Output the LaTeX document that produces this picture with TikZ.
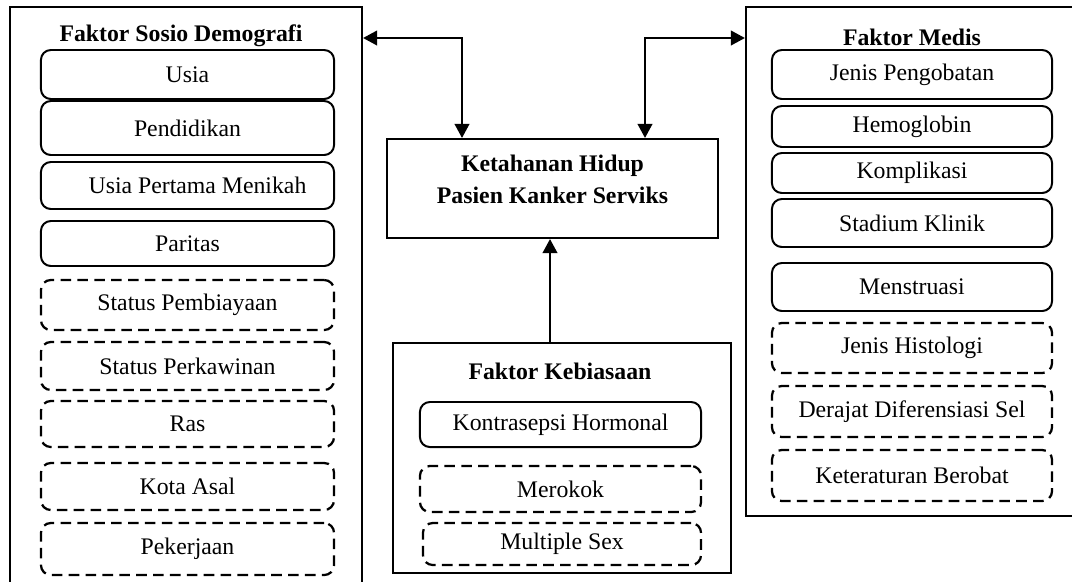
\documentclass[tikz,border=0pt]{standalone}
\usepackage{fontspec}
\setmainfont{Liberation Serif}
\usetikzlibrary{arrows.meta}
\newcommand\diagfont{\fontsize{16.9}{22.8}\selectfont}

\begin{document}
\begin{tikzpicture}[
    x=0.025cm, y=-0.025cm, font=\diagfont,
    panel/.style={draw=black, line width=1.5pt, inner sep=0pt},
    factor/.style={draw=black, line width=1.4pt, rounded corners=7pt,
        inner sep=0pt},
    optional/.style={factor, line width=1.6pt, dash pattern=on 7.5pt off 4.5pt},
    title/.style={font=\diagfont\bfseries},
    link/.style={line width=1.2pt},
    tip/.tip={Triangle[length=10pt,width=10.5pt]}
]
    \useasboundingbox (0,0) rectangle (1072,581);

    % the three groups of factors
    \node[panel, minimum width=8.8cm, minimum height=14.825cm] (sosio) at (186,303.5) {};
    \node[panel, minimum width=8.6cm, minimum height=12.725cm] (medis) at (918,261.5) {};
    \node[panel, minimum width=8.45cm, minimum height=5.75cm] (habit) at (562,458) {};
    \node[panel, minimum width=8.275cm, minimum height=2.475cm] (tgt) at (552.5,188.5) {};
    \node[title, align=center] (tgtlabel) at (552.5,179) {Ketahanan Hidup\\Pasien Kanker Serviks};

    \node[title] (sosiotitle) at (181,36) {Faktor Sosio Demografi};
    \node[title] (meditle) at (912,37) {Faktor Medis};
    \node[title] (habittitle) at (560,371) {Faktor Kebiasaan};

    % sosio demografi
    \node[factor, minimum width=7.325cm, minimum height=1.225cm] (usia) at (187.5,74.5) {Usia};
    \node[factor, minimum width=7.325cm, minimum height=1.35cm] (didik) at (187.5,128) {Pendidikan};
    \node[factor, minimum width=7.325cm, minimum height=1.175cm] (nikah) at (187.5,185.5) {\hspace{0.5cm}Usia Pertama Menikah};
    \node[factor, minimum width=7.325cm, minimum height=1.125cm] (paritas) at (187.5,243.5) {Paritas};
    \node[optional, minimum width=7.325cm, minimum height=1.25cm] (biaya) at (187.5,305) {Status Pembiayaan};
    \node[optional, minimum width=7.325cm, minimum height=1.2cm] (kawin) at (187.5,366) {Status Perkawinan};
    \node[optional, minimum width=7.325cm, minimum height=1.15cm] (ras) at (187.5,424) {Ras};
    \node[optional, minimum width=7.325cm, minimum height=1.175cm] (kota) at (187.5,486.5) {Kota Asal};
    \node[optional, minimum width=7.325cm, minimum height=1.3cm] (kerja) at (187.5,549) {Pekerjaan};

    % medis
    \node[factor, minimum width=7cm, minimum height=1.225cm] (obat) at (912,74.5) {Jenis Pengobatan};
    \node[factor, minimum width=7cm, minimum height=1.025cm] (hb) at (912,126.5) {Hemoglobin};
    \node[factor, minimum width=7cm, minimum height=1cm] (komp) at (912,173) {Komplikasi};
    \node[factor, minimum width=7cm, minimum height=1.2cm] (stad) at (912,223) {Stadium Klinik};
    \node[factor, minimum width=7cm, minimum height=1.2cm] (mens) at (912,287) {Menstruasi};
    \node[optional, minimum width=7cm, minimum height=1.25cm] (histo) at (912,348) {Jenis Histologi};
    \node[optional, minimum width=7cm, minimum height=1.275cm] (difer) at (912,411.5) {Derajat Diferensiasi Sel};
    \node[optional, minimum width=7cm, minimum height=1.275cm] (teratur) at (912,475.5) {Keteraturan Berobat};

    % kebiasaan
    \node[factor, minimum width=7.025cm, minimum height=1.125cm] (kb) at (560.5,424.5) {Kontrasepsi Hormonal};
    \node[optional, minimum width=7.025cm, minimum height=1.15cm] (rokok) at (560.5,489) {Merokok};
    \node[optional, minimum width=6.95cm, minimum height=1.05cm] (sex) at (562,544) {Multiple Sex};

    % connectors
    \coordinate (lelbow) at (462,38);
    \coordinate (relbow) at (645,38);
    \draw[link, tip-tip] (sosio.east |- lelbow) -- (lelbow) -- (tgt.north -| lelbow);
    \draw[link, tip-tip] (medis.west |- relbow) -- (relbow) -- (tgt.north -| relbow);
    \draw[link, -tip] (habit.north -| 550,0) -- (tgt.south -| 550,0);
\end{tikzpicture}
\end{document}
